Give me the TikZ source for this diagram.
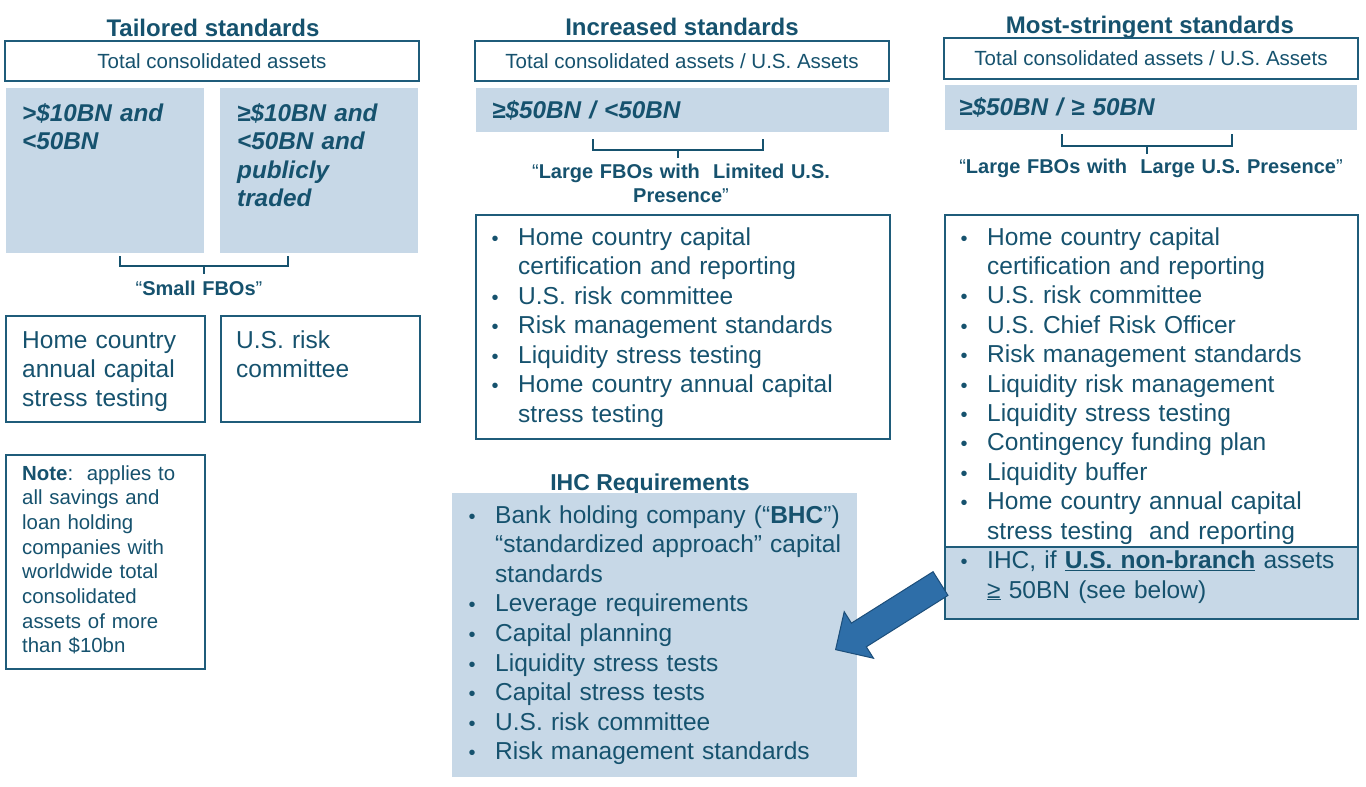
\documentclass[tikz,border=0pt]{standalone}
\usepackage{fontspec}
\setmainfont{Liberation Sans}
\usepackage{xcolor}
\usetikzlibrary{shapes.arrows,positioning,calc}

\definecolor{inkblue}{RGB}{22,82,110}
\definecolor{edgeblue}{RGB}{31,92,122}
\definecolor{paleblue}{RGB}{199,216,231}
\definecolor{arrowblue}{RGB}{46,110,168}
\definecolor{arrowedge}{RGB}{28,78,122}

% bullet and continuation indent for the requirement lists
\newcommand{\itm}{\makebox[26.5pt][l]{\fontsize{20}{20}\selectfont\textbullet}}
\newcommand{\cnt}{\hspace*{26.5pt}}

\begin{document}
\begin{tikzpicture}[x=1pt, y=-1pt,
    coltitle/.style={font=\bfseries\fontsize{24}{28}\selectfont, text=inkblue, anchor=base, inner sep=0},
    hdrbox/.style={draw=edgeblue, line width=1.6pt, minimum width=414, minimum height=40, inner sep=0, text=inkblue, font=\fontsize{20.5}{24}\selectfont, text height=14.5pt, text depth=0pt},
    tierbox/.style={fill=paleblue, inner sep=0, anchor=north west},
    tiertext/.style={font=\bfseries\itshape\fontsize{24.3}{28.6}\selectfont, text=inkblue, anchor=base west, inner sep=0, text width=190, align=left},
    listbox/.style={draw=edgeblue, line width=1.6pt, inner sep=0, anchor=north west},
    listtext/.style={font=\fontsize{24.5}{29.5}\selectfont, text=inkblue, anchor=base west, inner sep=0, text width=395, align=left},
    fbolabel/.style={font=\bfseries\fontsize{20}{24}\selectfont, text=inkblue, anchor=base, inner sep=0, text width=420, align=center},
    brk/.style={draw=inkblue, line width=2pt},
    bigarrow/.style={single arrow, draw=arrowedge, fill=arrowblue, line width=1pt, minimum height=124, minimum width=0, single arrow head extend=13.5, inner xsep=0, inner ysep=13.5}
]
\useasboundingbox (0,0) rectangle (1366,787);
\fill[white] (0,0) rectangle (1366,787);

% Tailored standards
\node[coltitle] (tailtitle) at (213,36) {Tailored standards};
\node[hdrbox] (tailhdr) at (212,61) {Total consolidated assets};
\node[tierbox, minimum width=198, minimum height=165] (smallA) at (6,88) {};
\node[tierbox, minimum width=198, minimum height=165] (smallB) at (220,88) {};
\node[tiertext] (smallAtxt) at (22,121) {>\$10BN and\\<50BN};
\node[tiertext] (smallBtxt) at (237,121) {≥\$10BN and\\<50BN and\\publicly\\traded};
\draw[brk] (120,256) -- (120,265.5) -- (288,265.5) -- (288,256) (204,265.5) -- (204,274);
\node[fbolabel] (smalllbl) at (199,295) {\textmd{“}Small FBOs\textmd{”}};

\node[listbox, minimum width=199, minimum height=106] (homebox) at (5,315) {};
\node[listbox, minimum width=199, minimum height=106] (riskbox) at (220,315) {};
\node[listtext, text width=180, font=\fontsize{24.5}{29.2}\selectfont] (hometxt) at (22,348) {Home country\\annual capital\\stress testing};
\node[listtext, text width=180, font=\fontsize{24.5}{29.2}\selectfont] (risktxt) at (236,348) {U.S. risk\\committee};

\node[listbox, minimum width=199, minimum height=214] (notebox) at (5,454) {};
\node[listtext, text width=180, font=\fontsize{20.4}{24.7}\selectfont] (notetxt) at (22,480)
  {\textbf{Note}:\ \ applies to\\all savings and\\loan holding\\companies with\\worldwide total\\consolidated\\assets of more\\than \$10bn};

% Increased standards
\node[coltitle] (incrtitle) at (682,35) {Increased standards};
\node[hdrbox] (incrhdr) at (682,61) {Total consolidated assets / U.S. Assets};
\node[tierbox, minimum width=413, minimum height=44] (limited) at (476,88) {};
\node[tiertext, text width=380] (limitedtxt) at (492,118) {≥\$50BN / <50BN};
\draw[brk] (593,139) -- (593,150) -- (763,150) -- (763,139) (678,150) -- (678,158);
\node[fbolabel] (limitedlbl) at (681,178) {\textmd{“}Large FBOs with\ \ Limited U.S.\\Presence\textmd{”}};

\node[listbox, minimum width=414, minimum height=224] (incrlist) at (475,214) {};
\node[listtext] (incrtxt) at (491.5,245)
  {\itm Home country capital\\
   \cnt certification and reporting\\
   \itm U.S. risk committee\\
   \itm Risk management standards\\
   \itm Liquidity stress testing\\
   \itm Home country annual capital\\
   \cnt stress testing};

% IHC requirements
\node[coltitle, font=\bfseries\fontsize{23}{27}\selectfont] (ihctitle) at (650,490) {IHC Requirements};
\node[tierbox, minimum width=405, minimum height=284] (ihcbox) at (452,493) {};
\node[listtext, font=\fontsize{24.5}{29.6}\selectfont] (ihctxt) at (468.5,523)
  {\itm Bank holding company (“\textbf{BHC}”)\\
   \cnt “standardized approach” capital\\
   \cnt standards\\
   \itm Leverage requirements\\
   \itm Capital planning\\
   \itm Liquidity stress tests\\
   \itm Capital stress tests\\
   \itm U.S. risk committee\\
   \itm Risk management standards};

% Most-stringent standards
\node[coltitle] (stricttitle) at (1150,33) {Most-stringent standards};
\node[hdrbox, minimum height=41] (stricthdr) at (1151,58.5) {Total consolidated assets / U.S. Assets};
\node[tierbox, minimum width=412, minimum height=45] (large) at (945,85) {};
\node[tiertext, text width=380] (largetxt) at (959,115) {≥\$50BN / ≥ 50BN};
\draw[brk] (1062,134) -- (1062,145.5) -- (1232,145.5) -- (1232,134) (1147,145.5) -- (1147,154);
\node[fbolabel] (largelbl) at (1151,173) {\textmd{“}Large FBOs with\ \ Large U.S. Presence\textmd{”}};

\node[tierbox, minimum width=413, minimum height=71] (ihcrow) at (944,547) {};
\node[listbox, minimum width=413, minimum height=404] (strictlist) at (944,214) {};
\draw[edgeblue, line width=1.6pt] (ihcrow.north west) -- (ihcrow.north east);
\node[listtext, font=\fontsize{24.5}{29.42}\selectfont] (stricttxt) at (960.5,245)
  {\itm Home country capital\\
   \cnt certification and reporting\\
   \itm U.S. risk committee\\
   \itm U.S. Chief Risk Officer\\
   \itm Risk management standards\\
   \itm Liquidity risk management\\
   \itm Liquidity stress testing\\
   \itm Contingency funding plan\\
   \itm Liquidity buffer\\
   \itm Home country annual capital\\
   \cnt stress testing\ \ and reporting\\
   \itm IHC, if \underline{\textbf{U.S. non-branch}} assets\\
   \cnt \underline{≥} 50BN (see below)};

% IHC pointer
\coordinate (ihctip) at (835,650);
\node[bigarrow, rotate=212.2, anchor=tip] (ihcarrow) at (ihctip) {};

\end{tikzpicture}
\end{document}
